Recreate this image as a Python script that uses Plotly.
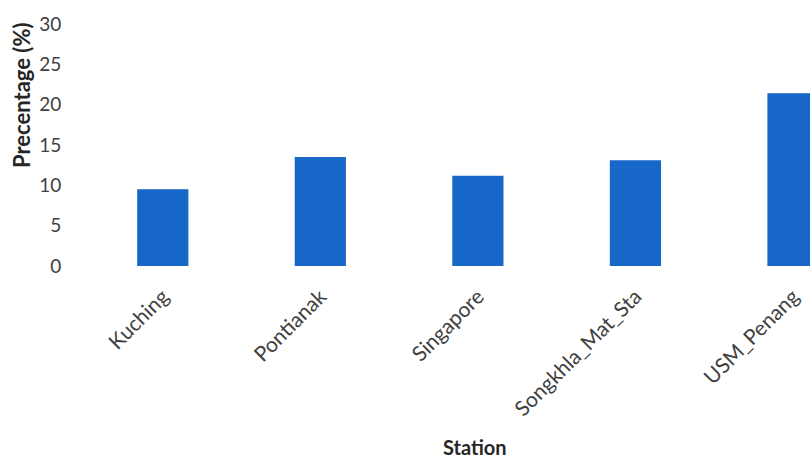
import plotly.graph_objects as go

stations = ["Kuching", "Pontianak", "Singapore", "Songkhla_Mat_Sta", "USM_Penang"]
percentages = [9.5, 13.5, 11.2, 13.1, 21.4]
y_ticks = [0, 5, 10, 15, 20, 25, 30]

font_family = "Lato, Open Sans, sans-serif"
text_color = "#404040"
title_color = "#262626"

# figure size and plot-area margins in pixels
W, H = 810, 459
L, R, T, B = 84, 0, 24, 193


def px_to_paper(x, y):
    """Convert pixel position (from top-left) to paper coordinates."""
    return (x - L) / (W - L - R), (H - B - y) / (H - T - B)


fig = go.Figure(
    go.Bar(
        x=stations,
        y=percentages,
        width=0.325,
        marker=dict(color="#1767C9", line=dict(width=0)),
    )
)

ytx, yty = px_to_paper(21, 96)
stx, sty = px_to_paper(475, 447)

fig.update_layout(
    width=W,
    height=H,
    margin=dict(l=L, r=R, t=T, b=B),
    paper_bgcolor="white",
    plot_bgcolor="white",
    showlegend=False,
    font=dict(family=font_family, color=text_color, size=19),
    xaxis=dict(
        range=[-0.5, 4.108],
        tickangle=-45,
        showline=False,
        showgrid=False,
        zeroline=False,
        ticks="outside",
        ticklen=9,
        tickcolor="rgba(0,0,0,0)",
        tickfont=dict(size=21, color=text_color),
    ),
    yaxis=dict(
        range=[0, 30],
        tickvals=y_ticks,
        showline=False,
        showgrid=False,
        zeroline=False,
        ticks="outside",
        ticklen=18,
        tickcolor="rgba(0,0,0,0)",
        tickfont=dict(size=19, color=text_color),
    ),
    annotations=[
        dict(
            text="<b>Precentage (%)</b>",
            x=ytx, y=yty, xref="paper", yref="paper",
            xanchor="center", yanchor="middle",
            textangle=-90, showarrow=False,
            font=dict(size=22, color=title_color),
        ),
        dict(
            text="<b>Station</b>",
            x=stx, y=sty, xref="paper", yref="paper",
            xanchor="center", yanchor="middle",
            showarrow=False,
            font=dict(size=20, color=title_color),
        ),
    ],
)

fig.write_html("out.html")
